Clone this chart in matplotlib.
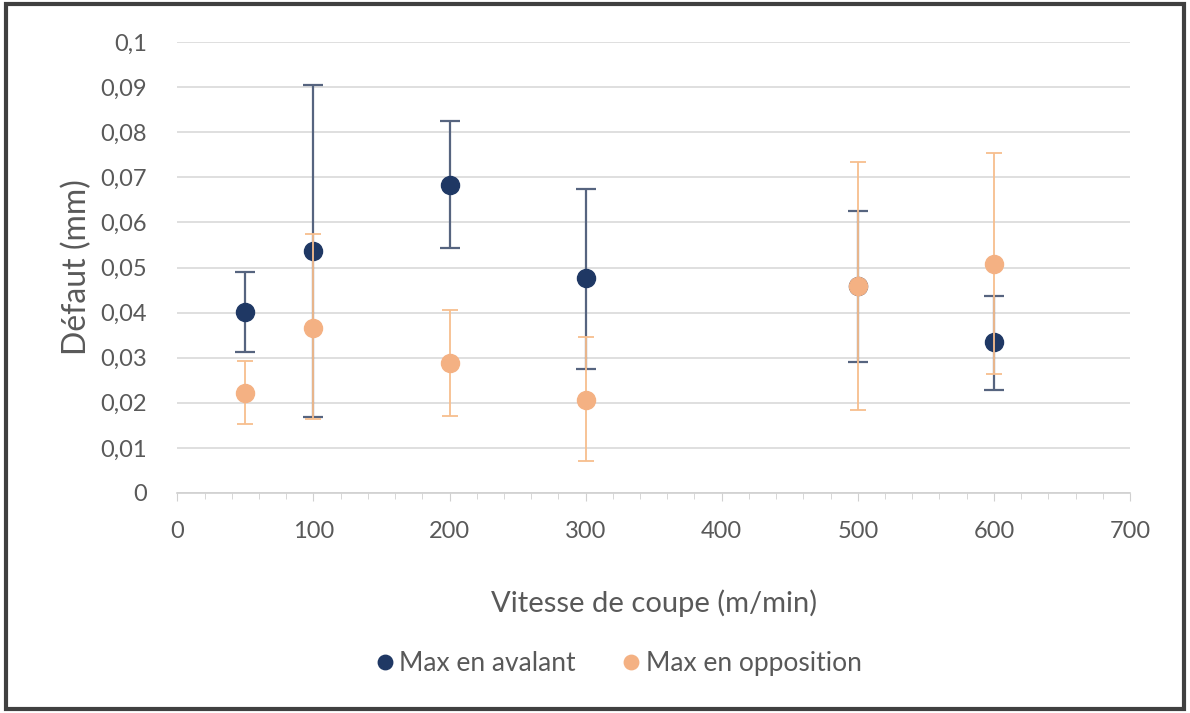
import numpy as np
import matplotlib
matplotlib.use("Agg")
import matplotlib.pyplot as plt
from matplotlib.patches import Rectangle

# vitesse de coupe (m/min)
vitesse = [50, 100, 200, 300, 500, 600]

# Max en avalant
avalant = [0.0402, 0.0536, 0.0682, 0.0477, 0.0460, 0.0334]
avalant_bas = [0.0313, 0.0168, 0.0544, 0.0276, 0.0290, 0.0229]
avalant_haut = [0.0490, 0.0905, 0.0826, 0.0674, 0.0626, 0.0437]

# Max en opposition
opposition = [0.0222, 0.0365, 0.0289, 0.0207, 0.0460, 0.0508]
opposition_bas = [0.0152, 0.0165, 0.0170, 0.0070, 0.0183, 0.0264]
opposition_haut = [0.0293, 0.0575, 0.0406, 0.0347, 0.0735, 0.0754]

yticks = [0, 0.01, 0.02, 0.03, 0.04, 0.05, 0.06, 0.07, 0.08, 0.09, 0.1]
ytick_labels = ["0", "0,01", "0,02", "0,03", "0,04", "0,05", "0,06", "0,07", "0,08", "0,09", "0,1"]
xticks = [0, 100, 200, 300, 400, 500, 600, 700]

plt.rcParams['font.family'] = ['Lato', 'DejaVu Sans']
gris = "#595959"
bleu = "#1F3864"
orange = "#F4B183"

fig = plt.figure(figsize=(11.9, 7.13), dpi=100)
ax = fig.add_axes([0.149, 0.3086, 0.8006, 0.6324])

av = np.array(avalant)
op = np.array(opposition)
err_av = [av - np.array(avalant_bas), np.array(avalant_haut) - av]
err_op = [op - np.array(opposition_bas), np.array(opposition_haut) - op]

ax.errorbar(vitesse, avalant, yerr=err_av, fmt="o", color=bleu, ms=13,
            ecolor="#56647f", elinewidth=1.6, capsize=7, capthick=1.6,
            label="Max en avalant", zorder=3)
ax.errorbar(vitesse, opposition, yerr=err_op, fmt="o", color=orange, ms=13,
            ecolor="#F7BE8E", elinewidth=1.3, capsize=6, capthick=1.3,
            label="Max en opposition", zorder=4)

ax.set_xlim(0, 700)
ax.set_ylim(0, 0.1)
ax.set_yticks(yticks)
ax.set_yticklabels(ytick_labels)
ax.set_xticks(xticks)
ax.set_xticks(np.arange(0, 701, 20), minor=True)
ax.grid(axis="y", color="#d9d9d9", lw=1.2, zorder=0)
ax.set_axisbelow(True)
for s in ["top", "right", "left"]:
    ax.spines[s].set_visible(False)
ax.spines["bottom"].set_color("#d0d0d0")
ax.spines["bottom"].set_linewidth(1.2)
ax.tick_params(axis="x", which="major", length=6, color="#d0d0d0", labelsize=17, labelcolor=gris, pad=14)
ax.tick_params(axis="x", which="minor", length=4, color="#d0d0d0")
ax.tick_params(axis="y", length=0, labelsize=17, labelcolor=gris, pad=22)

ax.set_xlabel("Vitesse de coupe (m/min)", fontsize=21, color=gris, labelpad=34)
ax.set_ylabel("Défaut (mm)", fontsize=23, color=gris, labelpad=6)

handles, labels = ax.get_legend_handles_labels()
handles = [h[0] for h in handles]
fig.legend(handles, labels, loc="center", bbox_to_anchor=(0.518, 0.069), ncol=2,
           frameon=False, fontsize=19, labelcolor=gris, handletextpad=0.05,
           columnspacing=1.6, markerscale=0.8, handlelength=1.0)

fig.patches.append(Rectangle((0.005, 0.005), 0.99, 0.989, transform=fig.transFigure,
                             fill=False, edgecolor="#404040", lw=3))

fig.savefig("out.png", dpi=100, facecolor="white")
